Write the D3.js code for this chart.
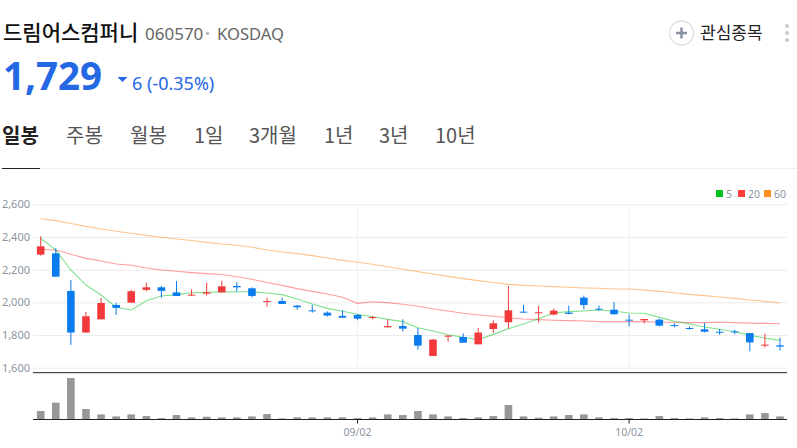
<!DOCTYPE html>
<html><head><meta charset="utf-8">
<script src="https://cdn.jsdelivr.net/npm/d3@7"></script>
<style>html,body{margin:0;padding:0;background:#fff;overflow:hidden}svg{display:block}text{font-family:"Noto Sans CJK KR","Noto Sans",sans-serif}</style>
</head><body><svg id="c" width="797" height="448"></svg>
<script>
const opens=[2292,2300,2070,1815,1896,1984,1998,2076,2092,2061,2041,2053,2061,2100,2086,2002,2008,1980,1951,1937,1917,1923,1904,1847,1855,1800,1672,1790,1788,1743,1837,1878,1943,1935,1925,1937,2029,1961,1955,1894,1890,1894,1861,1843,1835,1820,1822,1812,1735,1737];
const closes=[2343,2157,1815,1915,1996,1966,2068,2092,2070,2039,2047,2061,2098,2092,2039,2008,1990,1970,1945,1919,1906,1900,1910,1855,1839,1735,1772,1796,1753,1815,1872,1951,1937,1939,1949,1929,1984,1955,1927,1888,1898,1857,1857,1837,1820,1816,1816,1755,1741,1729];
const highs=[2404,2331,2137,1941,2027,1996,2076,2121,2100,2131,2080,2121,2131,2123,2092,2029,2029,1984,1984,1945,1951,1929,1917,1896,1896,1843,1776,1800,1810,1843,1890,2100,1984,1978,1961,1980,2041,1980,2002,1925,1898,1900,1873,1853,1873,1837,1833,1812,1808,1784];
const lows=[2286,2157,1739,1815,1896,1923,1998,2068,2029,2039,2041,2041,2061,2066,2031,1974,1990,1955,1937,1913,1906,1890,1896,1847,1821,1711,1672,1759,1753,1743,1813,1839,1937,1878,1920,1927,1957,1949,1927,1853,1871,1853,1847,1833,1816,1802,1804,1700,1725,1704];
const ma5=[2392,2320,2198,2106,2045,1970,1953,2010,2039,2047,2059,2061,2063,2065,2065,2057,2047,2020,1990,1963,1945,1927,1912,1896,1882,1845,1825,1802,1786,1772,1804,1839,1868,1900,1935,1943,1947,1953,1945,1935,1933,1908,1884,1867,1849,1835,1820,1798,1782,1767];
const ma20=[2325,2320,2294,2269,2253,2235,2227,2210,2198,2190,2182,2176,2170,2157,2141,2121,2104,2084,2067,2051,2031,1994,2004,1998,1988,1976,1961,1947,1933,1923,1915,1906,1898,1894,1890,1888,1886,1882,1882,1882,1882,1878,1878,1876,1876,1878,1876,1873,1871,1869];
const ma60=[2512,2500,2482,2465,2449,2435,2423,2410,2398,2388,2378,2367,2357,2349,2337,2320,2308,2298,2286,2271,2257,2245,2233,2218,2202,2188,2173,2159,2145,2133,2121,2110,2104,2100,2096,2092,2088,2086,2082,2082,2075,2067,2059,2049,2041,2033,2024,2014,2006,1996];
const volumes=[25,50,124,31,15,9,15,10,4,13,6,8,6,6,9,16,3,6,6,6,6,4,6,15,13,25,15,9,4,6,10,43,9,5,9,13,15,6,4,4,3,10,4,3,6,4,3,15,19,9];
const priceTicks=[1600,1800,2000,2200,2400,2600];
const dateTicks=[[21,"09/02"],[39,"10/02"]];
const tabs=[["일봉",2],["주봉",66],["월봉",130],["1일",194],["3개월",249],["1년",324],["3년",379],["10년",435]];
const legend=[["5","#00c31e",716],["20","#ff3b3b",738],["60","#ff8c1e",764]];

const svg=d3.select("#c");
const idx=d3.range(closes.length);
const x=d3.scalePoint().domain(idx).range([40.7,780]);
const y=d3.scaleLinear().domain([1600,2600]).range([367.7,204.3]);
const v=d3.scaleLinear().domain([0,124]).range([419.4,378]);
const UP="#f23a3c",DOWN="#0b7cee";
const FS='"Noto Sans","Open Sans",sans-serif';

// header
const T=(s,px,py,size,fill,w,fam)=>svg.append("text").attr("x",px).attr("y",py).attr("font-size",size).attr("fill",fill).attr("font-weight",w||400).style("font-family",fam||null).text(s);
T("드림어스컴퍼니",3,40,21,"#111",500);
T("060570",145,40,17,"#666",400,FS);
svg.append("circle").attr("cx",207.5).attr("cy",33.5).attr("r",1.8).attr("fill","#bbb");
T("KOSDAQ",217,40,16.6,"#666",400,FS);
T("1,729",3,90,38.5,"#2468e4",700,FS);
svg.append("path").attr("d","M117.5 77L127.5 77L122.5 82Z").attr("fill","#2468e4");
T("6 (-0.35%)",132,90,18,"#2468e4",400,FS);
svg.append("circle").attr("cx",681.5).attr("cy",33).attr("r",12).attr("fill","#fff").attr("stroke","#dcdfe4").attr("stroke-width",1.3);
svg.append("path").attr("d","M676 33H687M681.5 27.5V38.5").attr("stroke","#87919f").attr("stroke-width",2.4);
T("관심종목",700,39,17,"#222");
[26,33,40].forEach(d=>svg.append("circle").attr("cx",787).attr("cy",d).attr("r",2).attr("fill","#c6c9d0"));
tabs.forEach((t,i)=>T(t[0],t[1],143,20,i?"#555":"#222",i?400:700));
svg.append("line").attr("x1",0).attr("x2",797).attr("y1",168.5).attr("y2",168.5).attr("stroke","#eeeeee");
svg.append("line").attr("x1",2).attr("x2",40).attr("y1",168.5).attr("y2",168.5).attr("stroke","#222");

// grid + y axis
const yAxis=d3.axisLeft(y).tickValues(priceTicks).tickFormat(d3.format(",")).tickSize(-754).tickPadding(3);
const gy=svg.append("g").attr("transform","translate(33,0)").call(yAxis);
gy.select(".domain").remove();
gy.selectAll("line").attr("stroke","#ececec");
gy.selectAll("text").attr("fill","#8b95a1").attr("font-size",11).style("font-family",FS);
svg.append("g").selectAll("line").data(dateTicks).join("line")
 .attr("x1",d=>x(d[0])).attr("x2",d=>x(d[0])).attr("y1",y(2600)).attr("y2",y(1600)).attr("stroke","#f1f1f1");

// MA lines
const line=d3.line().x((d,i)=>x(i)).y(d=>y(d));
[[ma60,"#ff8c1e"],[ma20,"#ff3b3b"],[ma5,"#00c31e"]].forEach(([s,c])=>svg.append("path").datum(s).attr("d",line).attr("fill","none").attr("stroke",c).attr("stroke-opacity",.5).attr("stroke-width",1.1));

// candles
const col=i=>closes[i]>=opens[i]?UP:DOWN;
svg.append("g").selectAll("line").data(idx).join("line")
 .attr("x1",i=>x(i)).attr("x2",i=>x(i)).attr("y1",i=>y(highs[i])).attr("y2",i=>y(lows[i])).attr("stroke",col).attr("stroke-width",1);
svg.append("g").selectAll("rect").data(idx).join("rect")
 .attr("x",i=>x(i)-3.8).attr("width",7.6)
 .attr("y",i=>y(Math.max(opens[i],closes[i])))
 .attr("height",i=>Math.max(1,Math.abs(y(opens[i])-y(closes[i]))))
 .attr("fill",col);

// volume
svg.append("g").selectAll("rect").data(idx).join("rect")
 .attr("x",i=>x(i)-3.8).attr("width",7.6).attr("y",i=>v(volumes[i])).attr("height",i=>v(0)-v(volumes[i])).attr("fill","#979797");

// frame lines
svg.append("line").attr("x1",33).attr("x2",787).attr("y1",372.7).attr("y2",372.7).attr("stroke","#222");
svg.append("line").attr("x1",33).attr("x2",787).attr("y1",419.5).attr("y2",419.5).attr("stroke","#222");
const xg=svg.append("g").selectAll("g").data(dateTicks).join("g").attr("transform",d=>`translate(${x(d[0])},419.5)`);
xg.append("line").attr("y2",4).attr("stroke","#222");
xg.append("text").attr("y",16).attr("text-anchor","middle").attr("font-size",10.5).attr("fill","#8b95a1").style("font-family",FS).text(d=>d[1]);

// legend
legend.forEach(l=>{
 svg.append("rect").attr("x",l[2]).attr("y",190).attr("width",7).attr("height",7).attr("fill",l[1]);
 T(l[0],l[2]+10,197.5,10.5,"#8b95a1",400,FS);
});
</script></body></html>
